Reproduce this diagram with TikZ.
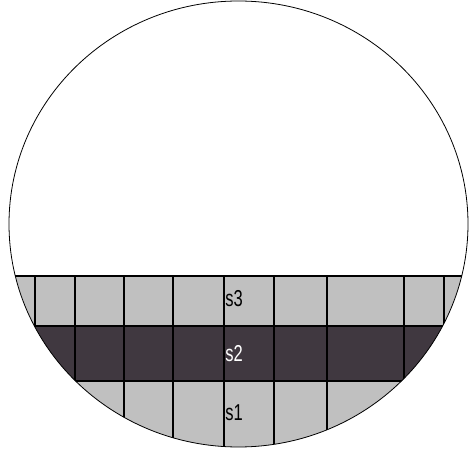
\documentclass[tikz,border=0pt]{standalone}
\usepackage{fontspec}
\setmainfont{Liberation Sans}
\newfontfamily\narrowfont[FakeStretch=0.72]{Liberation Sans}
\usepackage{tikz}
\definecolor{rowgray}{HTML}{C0C0C0}
\definecolor{rowdark}{HTML}{403840}
\tikzset{
    wafer/.style={draw=black, line width=0.8pt},
    cellline/.style={draw=black, line width=1.1pt},
    rowlabel/.style={font=\narrowfont\fontsize{23}{23}\selectfont, inner sep=0pt},
    lightrow/.style={fill=rowgray},
    darkrow/.style={fill=rowdark}
}

\begin{document}
\begin{tikzpicture}[x=1pt, y=-1pt]
        \useasboundingbox (0,0) rectangle (469,454);
        \begin{scope}
            \clip (238.5,224) ellipse [x radius=229.5, y radius=223];
            \fill[lightrow] (0,276) rectangle (469,326);
            \fill[darkrow] (0,326) rectangle (469,381);
            \fill[lightrow] (0,381) rectangle (469,454);
            \foreach \y in {276,326,381}
                \draw[cellline] (0,\y) -- (469,\y);
            \foreach \x/\ybot in {35/326, 75/381, 124/454, 173/454, 224/454, 274/454, 327/454, 404/381, 444/326}
                \draw[cellline] (\x,276) -- (\x,\ybot);
        \end{scope}
        \draw[wafer] (238.5,224) ellipse [x radius=229.5, y radius=223];
        \node[rowlabel] (s3) at (234,299) {s3};
        \node[rowlabel, text=white] (s2) at (234,354) {s2};
        \node[rowlabel] (s1) at (234,413) {s1};
    \end{tikzpicture}
\end{document}
